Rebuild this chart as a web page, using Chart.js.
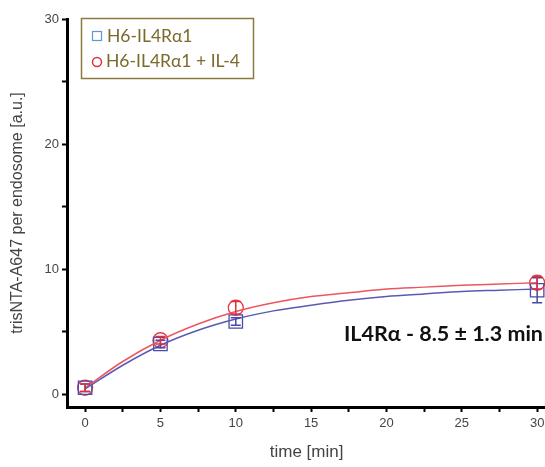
<!DOCTYPE html>
<html lang="en">
<head>
<meta charset="UTF-8">
<title>trisNTA-A647 uptake</title>
<script src="https://cdn.jsdelivr.net/npm/chart.js@4.4.0/dist/chart.umd.min.js"></script>
<style>
  html, body { margin: 0; padding: 0; background: #fff; overflow: hidden; }
  /* a bit wider than the window: the space Chart.js keeps for the "30" label falls off the right edge */
  .wrap { width: 557px; height: 467px; }
</style>
</head>
<body>
<div class="wrap"><canvas id="myChart"></canvas></div>
<script>
// measured points (mean +- error)
const times = [0, 5, 10, 30];
const blueMean = [0.5, 4.0, 5.8, 8.3];
const blueErr = [0.3, 0.3, 0.3, 1.0];
const redMean = [0.5, 4.3, 6.9, 8.9];
const redErr = [0.3, 0.3, 0.5, 0.5];

// fit curves
const fitTimes = [0, 2.5, 5, 7.5, 10, 12.5, 15, 17.5, 20, 22.5, 25, 27.5, 30];
const blueFit = [0.4, 2.3, 3.9, 5.1, 6.0, 6.65, 7.1, 7.5, 7.8, 8.0, 8.2, 8.3, 8.4];
const redFit = [0.5, 2.6, 4.3, 5.6, 6.6, 7.3, 7.8, 8.1, 8.4, 8.55, 8.7, 8.8, 8.9];

const xTicks = [0, 2.5, 5, 7.5, 10, 12.5, 15, 17.5, 20, 22.5, 25, 27.5, 30];
const yTicks = [0, 5, 10, 15, 20, 25, 30];

const legendLabels = ['H6-IL4R\u03b11', 'H6-IL4R\u03b11 + IL-4'];
const note = 'IL4R\u03b1 - 8.5 \u00b1 1.3 min';

const pts = (xs, ys) => xs.map((x, i) => ({ x: x, y: ys[i] }));

const errorBars = {
    id: 'errorBars',
    afterDatasetsDraw(chart) {
        const { ctx, scales: { x, y } } = chart;
        chart.data.datasets.forEach((ds, i) => {
            if (!ds.errors || !chart.isDatasetVisible(i)) return;
            ctx.save();
            ctx.strokeStyle = ds.errColor;
            ctx.lineWidth = 1.5;
            ds.data.forEach((p, j) => {
                const px = x.getPixelForValue(p.x);
                const top = y.getPixelForValue(p.y + ds.errors[j]);
                const bot = y.getPixelForValue(p.y - ds.errors[j]);
                ctx.beginPath();
                ctx.moveTo(px, top); ctx.lineTo(px, bot);
                ctx.moveTo(px - 5, top); ctx.lineTo(px + 5, top);
                ctx.moveTo(px - 5, bot); ctx.lineTo(px + 5, bot);
                ctx.stroke();
            });
            ctx.restore();
        });
    }
};

const boxAndNote = {
    id: 'boxAndNote',
    afterDraw(chart) {
        const ctx = chart.ctx;
        ctx.save();
        // legend box
        ctx.strokeStyle = '#8a7a3c';
        ctx.lineWidth = 1.5;
        ctx.strokeRect(81.5, 18.5, 172, 60);
        ctx.font = '17.5px Lato';
        ctx.fillStyle = '#7a6a2c';
        ctx.textBaseline = 'middle';
        ctx.fillText(legendLabels[0], 107, 36);
        ctx.fillText(legendLabels[1], 106, 61);
        ctx.strokeStyle = '#5b9bd5';
        ctx.lineWidth = 1.2;
        ctx.strokeRect(92.5, 31.5, 9, 9);
        ctx.strokeStyle = '#e0303a';
        ctx.lineWidth = 1.5;
        ctx.beginPath();
        ctx.arc(97, 62, 4.5, 0, Math.PI * 2);
        ctx.stroke();
        // fit note
        ctx.font = 'bold 21.5px Lato';
        ctx.fillStyle = '#111';
        ctx.textAlign = 'right';
        ctx.fillText(note, 543, 334);
        ctx.restore();
    }
};

new Chart(document.getElementById('myChart'), {
    type: 'scatter',
    data: {
        datasets: [{
            type: 'line',
            data: pts(fitTimes, blueFit),
            borderColor: '#5a5ab4',
            borderWidth: 1.5,
            pointRadius: 0,
            clip: false,
            cubicInterpolationMode: 'monotone'
        }, {
            type: 'line',
            data: pts(fitTimes, redFit),
            borderColor: '#ee5560',
            borderWidth: 1.5,
            pointRadius: 0,
            clip: false,
            cubicInterpolationMode: 'monotone'
        }, {
            data: pts(times, blueMean),
            errors: blueErr,
            errColor: '#4848a8',
            pointStyle: 'rect',
            pointRadius: 9.5,
            borderColor: '#4a4aac',
            borderWidth: 1.3,
            clip: false,
            backgroundColor: 'rgba(0,0,0,0)'
        }, {
            data: pts(times, redMean),
            errors: redErr,
            errColor: '#e0303a',
            pointStyle: 'circle',
            pointRadius: 7.5,
            borderColor: '#e83a44',
            borderWidth: 1.3,
            clip: false,
            backgroundColor: 'rgba(0,0,0,0)'
        }]
    },
    options: {
        responsive: true,
        maintainAspectRatio: false,
        animation: false,
        layout: { padding: { top: 19, right: 0, left: 0, bottom: 0 } },
        plugins: { legend: { display: false }, tooltip: { enabled: false } },
        scales: {
            x: {
                type: 'linear',
                min: -1.2,
                max: 30.6,
                afterBuildTicks: s => { s.ticks = xTicks.map(v => ({ value: v })); },
                afterFit: s => { s.height = 60; },
                ticks: {
                    autoSkip: false,
                    maxRotation: 0,
                    padding: 4,
                    color: '#444',
                    font: { family: 'Liberation Sans', size: 13 },
                    callback: v => (v % 5 === 0 ? v : '')
                },
                grid: { drawOnChartArea: false, color: '#000', tickLength: 5, tickWidth: 2 },
                border: { color: '#000', width: 3 },
                title: {
                    display: true,
                    text: 'time [min]',
                    color: '#444',
                    font: { family: 'Liberation Sans', size: 17 },
                    padding: { top: 2 }
                }
            },
            y: {
                type: 'linear',
                min: -1.04,
                max: 30,
                afterBuildTicks: s => { s.ticks = yTicks.map(v => ({ value: v })); },
                afterFit: s => { s.width = 67; },
                ticks: {
                    padding: 3,
                    color: '#444',
                    font: { family: 'Liberation Sans', size: 13 },
                    callback: v => (v % 10 === 0 ? v : '')
                },
                grid: { drawOnChartArea: false, color: '#000', tickLength: 5, tickWidth: 2 },
                border: { color: '#000', width: 3 },
                title: {
                    display: true,
                    text: 'trisNTA-A647 per endosome [a.u.]',
                    color: '#444',
                    font: { family: 'Liberation Sans', size: 16 },
                    padding: { top: 8, bottom: 0 }
                }
            }
        }
    },
    plugins: [errorBars, boxAndNote]
});
</script>
</body>
</html>
